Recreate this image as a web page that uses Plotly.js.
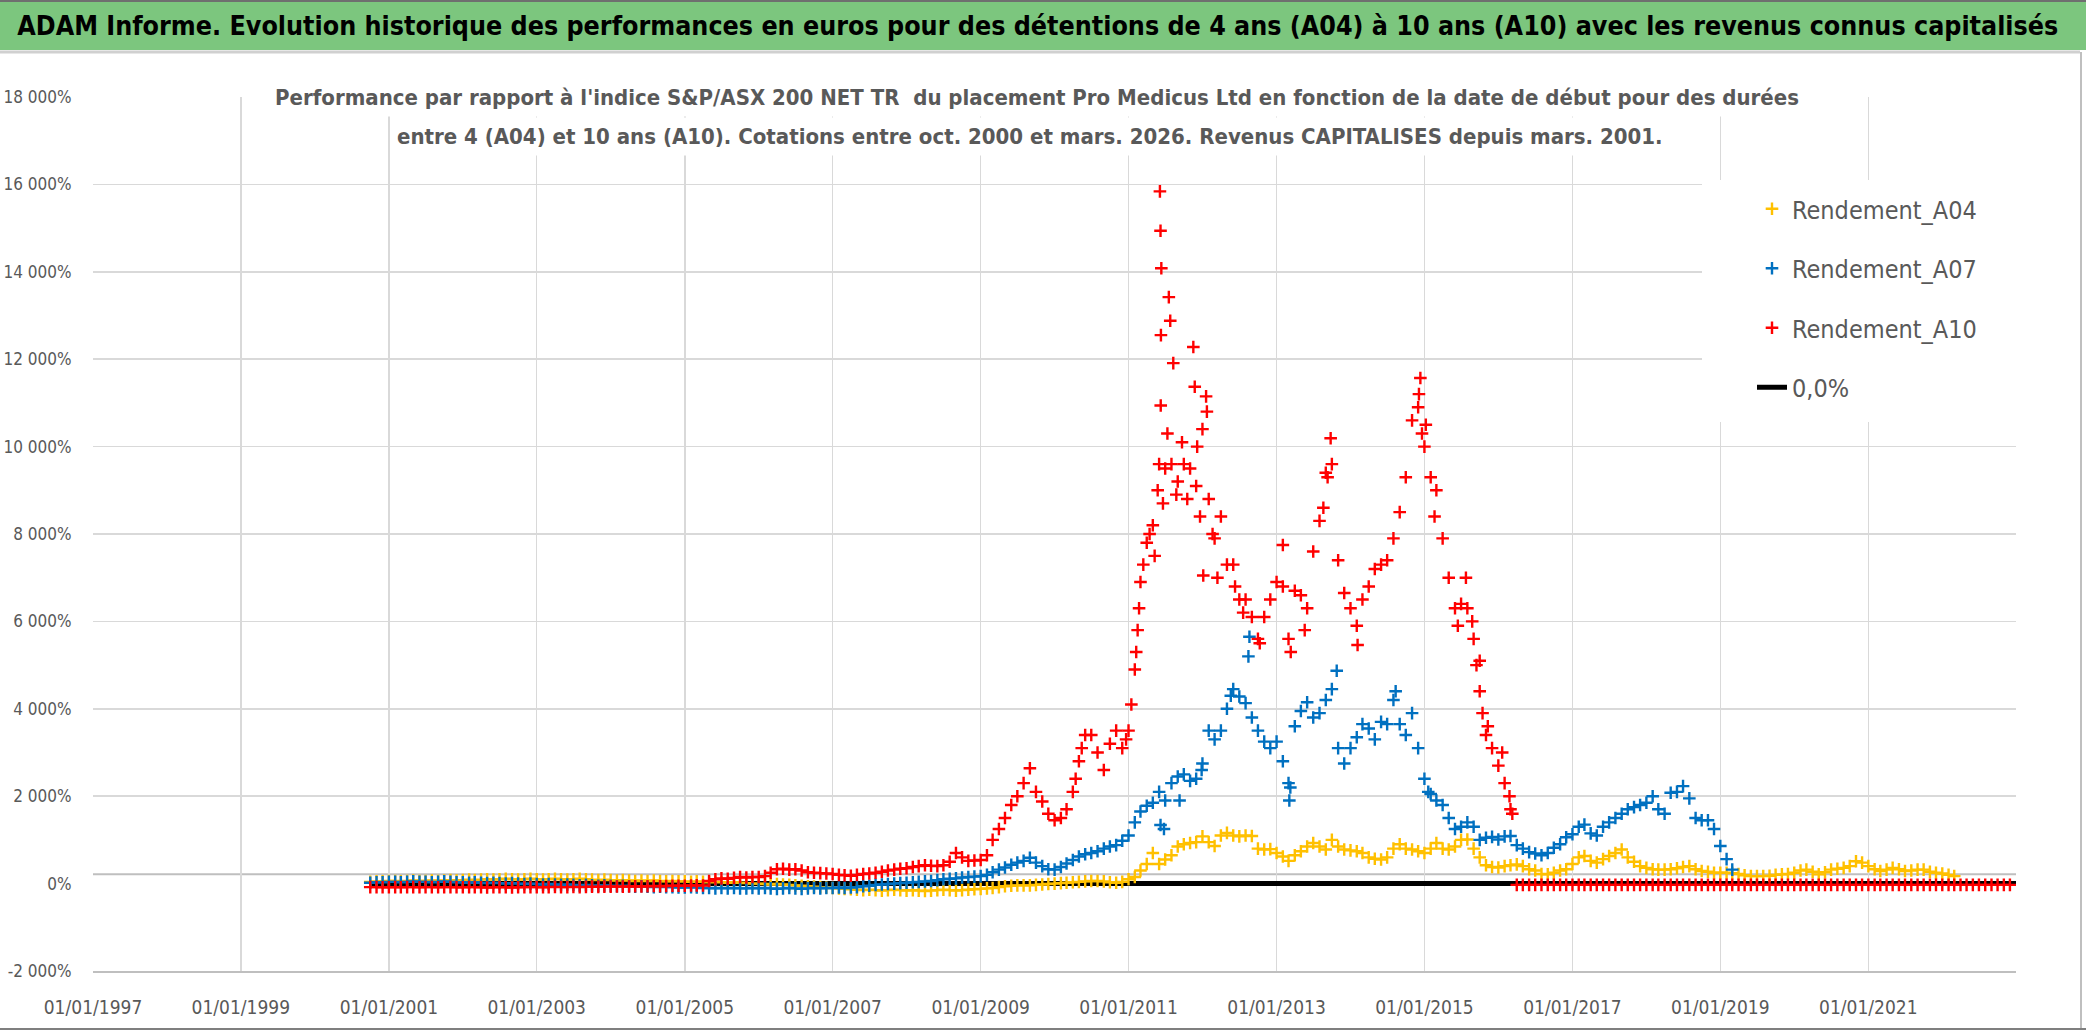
<!DOCTYPE html>
<html>
<head>
<meta charset="utf-8">
<script src="https://cdn.plot.ly/plotly-3.0.1.min.js"></script>
<style>
html,body{margin:0;padding:0;background:#ffffff;}
#chart{width:2086px;height:1031px;}
</style>
</head>
<body>
<div id="chart"></div>
<script>
// ---------- DATA ----------
// Monthly series, first value = October 2000 (start date of the holding period)
const seriesStart = [2000, 10];

const A04 = [
  40,50,50,
  60,60,50,60,70,60,60,70,60,70,80,70,
  80,90,80,90,100,90,100,110,100,90,100,110,
  100,90,100,110,100,90,100,110,100,90,80,90,
  80,70,80,70,60,70,60,70,60,50,60,50,
  50,40,50,40,30,40,30,20,30,20,10,0,
  0,-10,-20,-10,-20,-30,-40,-50,-60,-70,-80,-90,
  -100,-110,-120,-130,-140,-150,-140,-150,-160,-150,-140,-150,
  -160,-150,-160,-170,-160,-150,-140,-150,-160,-150,-140,-130,
  -120,-110,-100,-80,-60,-50,-40,-40,-40,-30,-20,-10,
  0,10,20,30,40,50,60,60,50,30,20,40,
  100,150,300,450,700,450,550,650,850,900,930,950,
  1080,950,860,1100,1160,1100,1080,1100,1090,800,780,790,
  700,620,520,650,740,850,930,850,780,1000,850,780,
  760,740,700,600,570,550,600,800,900,800,780,740,
  700,800,930,800,780,850,1000,1010,800,600,420,380,
  370,400,420,440,400,330,300,220,210,250,300,330,
  450,600,630,520,480,560,630,700,780,600,500,400,
  360,330,320,320,330,350,380,400,330,290,270,250,
  250,250,240,220,190,170,170,170,180,200,210,220,
  250,300,320,270,210,260,320,340,360,400,510,480,
  400,330,290,320,360,330,290,300,320,320,270,250,
  230,200,170
];

const A07 = [
  20,30,30,
  40,40,30,40,50,40,40,30,40,50,40,30,
  30,20,30,20,10,20,10,0,10,0,-10,0,
  -10,-20,-10,-20,-30,-20,-30,-40,-30,-40,-50,-40,
  -50,-60,-50,-60,-70,-60,-70,-80,-70,-80,-80,-90,
  -90,-80,-90,-100,-100,-110,-100,-110,-100,-110,-110,-100,
  -110,-100,-110,-120,-110,-100,-110,-120,-110,-100,-110,-100,
  -100,-90,-100,-90,-80,-60,-50,-30,-20,-10,0,10,
  20,30,40,50,60,80,100,110,120,140,150,160,
  170,200,260,320,370,430,480,520,590,480,400,330,
  320,380,460,540,620,670,700,740,800,850,880,980,
  1100,1400,1650,1780,1850,2100,1900,2300,2450,2500,2350,2400,
  2750,3500,3300,3500,4000,4450,4280,4130,3800,3500,3250,3100,
  3250,2800,2300,3600,3950,4150,3800,3900,4200,4450,3100,2750,
  3100,3350,3650,3550,3300,3700,3650,4200,3650,3400,3900,3100,
  2400,2050,1900,1800,1500,1250,1300,1400,1300,1000,1050,1070,
  1010,1080,1090,880,800,720,690,650,700,820,900,1060,
  1130,1300,1350,1150,1100,1300,1400,1500,1600,1700,1750,1800,
  1850,2000,1700,1600,2080,2100,2230,1950,1500,1450,1450,1250,
  860,560,320
];

const A10 = [
  -80,-80,-85,
  -85,-80,-85,-80,-80,-85,-80,-80,-85,-80,-80,-85,
  -85,-80,-80,-85,-90,-85,-80,-85,-90,-85,-80,-80,
  -80,-85,-80,-75,-80,-80,-75,-80,-75,-70,-75,-70,
  -70,-65,-70,-65,-60,-65,-60,-55,-60,-55,-50,-50,
  -50,-45,-40,-45,60,100,120,110,130,150,140,150,
  150,170,250,330,340,320,330,300,260,250,240,230,
  220,200,190,180,200,220,230,250,270,300,320,340,
  350,380,400,420,410,400,420,500,700,600,520,530,
  540,650,1000,1250,1500,1800,2000,2300,2640,2100,1880,1600,
  1450,1500,1700,2100,2800,3400,3400,3000,2600,3200,3500,3100,
  3500,4900,6900,7800,8200,9600,9500,9600,9200,9600,9500,9100,
  10400,8800,7900,8400,7300,7300,6500,6500,6100,5600,6100,6500,
  6900,6800,5600,6700,6600,6300,7600,8300,9400,9600,7400,6650,
  6300,5900,6500,6800,7200,7300,7400,7900,8500,9300,10600,10900,
  10000,9300,9000,7900,7000,6300,6400,6300,5600,4400,3400,3100,
  2700,2300,1700,-30,-30,-30,-30,-30,-30,-30,-30,-30,
  -30,-30,-30,-30,-30,-30,-30,-30,-30,-30,-30,-30,
  -30,-30,-30,-30,-30,-30,-30,-30,-30,-30,-30,-30,
  -30,-30,-30,-30,-30,-30,-30,-30,-30,-30,-30,-30,
  -30,-30,-30,-30,-30,-30,-30,-30,-30,-30,-30,-30,
  -30,-30,-30,-30,-30,-30,-30,-30,-30,-30,-30,-30,
  -30,-30,-30,-30,-30,-30,-30,-30,-30,-30,-30,-30
];

// Isolated scattered points (daily outliers)
const A07_extraDates = ['2011-06-08','2011-06-25','2011-09-10','2011-12-28','2012-05-20','2012-08-15','2012-08-20','2013-03-05','2013-03-10','2013-10-25','2014-08-12','2015-01-20'];
const A07_extraVals  = [1340,1250,1900,2600,4300,5200,5650,1900,2200,4870,4400,2100];

const A10_extraDates = [
  '2010-04-15','2010-05-15','2010-12-20','2011-01-15','2011-02-08','2011-02-15','2011-02-22','2011-03-15','2011-04-15',
  '2011-05-10','2011-05-25','2011-06-05','2011-06-08','2011-06-09','2011-06-10','2011-06-12','2011-06-20',
  '2011-07-12','2011-07-19','2011-07-26','2011-08-10','2011-08-25','2011-09-22','2011-10-18','2011-11-17',
  '2011-11-24','2011-12-06','2011-12-20','2012-01-05','2012-01-19','2012-01-23','2012-02-20','2012-03-15',
  '2012-06-10','2012-07-20','2012-10-10','2013-02-01','2013-03-12','2013-05-20','2013-08-20','2013-09-10',
  '2013-09-25','2014-02-05','2014-12-05','2014-12-12','2014-12-20','2015-01-08','2015-02-20','2015-06-15',
  '2015-07-25','2015-08-25','2015-09-15','2015-10-01','2015-10-15','2015-11-10','2016-01-20','2016-02-25','2016-03-10'
];
const A10_extraVals = [
  2400,3100,3300,4100,5300,5800,6300,7300,8000,
  7500,9000,15840,14940,10940,12550,14080,8700,
  10300,13420,12880,11910,8900,10100,8800,12280,
  11370,10000,8400,7050,11150,10800,8000,7000,
  6800,6200,5500,7750,5300,5800,8600,9300,
  10190,5460,11200,11570,10300,10500,8400,5900,
  7000,6000,5000,5100,3900,3600,3000,2000,1600
];

const zeroDates = ['2000-10-01','2022-12-31'];
const zeroVals  = [0, 0];

const xTickYears = [1997,1999,2001,2003,2005,2007,2009,2011,2013,2015,2017,2019,2021];
const yTickVals  = [-2000,0,2000,4000,6000,8000,10000,12000,14000,16000,18000];
const yTickText  = ['-2 000%','0%','2 000%','4 000%','6 000%','8 000%','10 000%','12 000%','14 000%','16 000%','18 000%'];

// ---------- helpers ----------
function monthlyDates(n){
  const out=[]; let y=seriesStart[0], m=seriesStart[1];
  for(let i=0;i<n;i++){
    out.push(y+'-'+String(m).padStart(2,'0')+'-01');
    m++; if(m>12){m=1;y++;}
  }
  return out;
}

const FONT = '"DejaVu Sans Condensed", "Liberation Sans Narrow", sans-serif';
const GREY = '#595959';

function mk(name, vals, color, extraD, extraV, rank){
  const xs = monthlyDates(vals.length).concat(extraD||[]);
  const ys = vals.concat(extraV||[]);
  return {
    type:'scatter', mode:'markers', name:name, x:xs, y:ys,
    legendgroup:name, legendrank:rank,
    marker:{symbol:'cross-thin', size:9, color:color, line:{color:color, width:2.4}},
    hoverinfo:'skip'
  };
}

const traces = [
  {type:'scatter', mode:'lines', name:'0,0%', x:zeroDates, y:zeroVals,
   legendgroup:'zero', legendrank:4, line:{color:'#000000', width:5}, hoverinfo:'skip'},
  mk('Rendement_A04', A04, '#FFC000', [], [], 1),
  mk('Rendement_A07', A07, '#0070C0', A07_extraDates, A07_extraVals, 2),
  mk('Rendement_A10', A10, '#FF0000', A10_extraDates, A10_extraVals, 3)
];

const L=93, R=70, T=97, B=60, W=2086, H=1031;
const PW=W-L-R, PH=H-T-B;
const px2x = p => (p-L)/PW;
const py2y = p => 1-(p-T)/PH;

const layout = {
  width:W, height:H,
  margin:{l:L, r:R, t:T, b:B, pad:0},
  paper_bgcolor:'#ffffff', plot_bgcolor:'#ffffff',
  showlegend:true,
  title:{
    text:'<b>ADAM Informe. Evolution historique des performances en euros pour des détentions de 4 ans (A04) à 10 ans (A10) avec les revenus connus capitalisés</b>',
    x:0.4975, xref:'container', xanchor:'center',
    y:1-26/H, yref:'container', yanchor:'middle',
    font:{family:FONT, size:26.6, color:'#000000'}
  },
  xaxis:{
    type:'date',
    range:['1997-01-01','2022-12-31'],
    tickmode:'array',
    tickvals:xTickYears.map(y=>y+'-01-01'),
    ticktext:xTickYears.map(y=>'01/01/'+y),
    showgrid:true, gridcolor:'#d9d9d9', gridwidth:1.5,
    showline:true, linecolor:'#bfbfbf', linewidth:2,
    zeroline:false,
    ticks:'outside', ticklen:18, tickcolor:'rgba(0,0,0,0)',
    tickfont:{family:FONT, size:19, color:GREY}
  },
  yaxis:{
    range:[-2000,18000],
    tickmode:'array', tickvals:yTickVals, ticktext:yTickText,
    showgrid:true, gridcolor:'#d9d9d9', gridwidth:1.5,
    zeroline:true, zerolinecolor:'rgba(0,0,0,0)',
    showline:false,
    ticks:'outside', ticklen:17, tickcolor:'rgba(0,0,0,0)',
    tickfont:{family:FONT, size:17, color:GREY}
  },
  legend:{
    x:px2x(1752), y:py2y(186), xanchor:'left', yanchor:'top',
    bgcolor:'#ffffff', borderwidth:0,
    traceorder:'grouped', tracegroupgap:24,
    font:{family:FONT, size:25, color:GREY},
    itemwidth:30
  },
  shapes:[
    // white area behind the legend (covers gridlines as in the reference)
    {type:'rect', xref:'paper', yref:'paper', x0:px2x(1702), x1:1, y0:py2y(422), y1:py2y(180),
     fillcolor:'#ffffff', line:{width:0}, layer:'above'},
    // green header band
    {type:'rect', xref:'paper', yref:'paper', x0:px2x(0), x1:px2x(W), y0:py2y(50), y1:py2y(0),
     fillcolor:'#7cc67e', line:{width:0}, layer:'below'},
    {type:'line', xref:'paper', yref:'paper', x0:px2x(0), x1:px2x(W), y0:py2y(1), y1:py2y(1),
     line:{color:'#6f6f6f', width:2}},
    {type:'line', xref:'paper', yref:'paper', x0:px2x(0), x1:px2x(2080), y0:py2y(52), y1:py2y(52),
     line:{color:'#d0d0d0', width:3}},
    // outer frame right and bottom
    {type:'line', xref:'paper', yref:'paper', x0:px2x(2081), x1:px2x(2081), y0:py2y(52), y1:py2y(1028),
     line:{color:'#bfbfbf', width:2}},
    {type:'line', xref:'paper', yref:'paper', x0:px2x(0), x1:px2x(W), y0:py2y(1029), y1:py2y(1029),
     line:{color:'#7f7f7f', width:2}},
    // horizontal axis line drawn slightly above 0
    {type:'line', xref:'paper', yref:'y', x0:0, x1:1, y0:215, y1:215,
     line:{color:'#bfbfbf', width:2}, layer:'below'}
  ],
  annotations:[
    {xref:'paper', yref:'paper', x:px2x(1037), y:py2y(97), xanchor:'center', yanchor:'middle',
     text:"<b>Performance par rapport à l'indice S&P/ASX 200 NET TR  du placement Pro Medicus Ltd en fonction de la date de début pour des durées</b>",
     showarrow:false, bgcolor:'#ffffff', borderpad:6,
     font:{family:FONT, size:22, color:GREY}},
    {xref:'paper', yref:'paper', x:px2x(1030), y:py2y(137), xanchor:'center', yanchor:'middle',
     text:"<b>entre 4 (A04) et 10 ans (A10). Cotations entre oct. 2000 et mars. 2026. Revenus CAPITALISES depuis mars. 2001.</b>",
     showarrow:false, bgcolor:'#ffffff', borderpad:6,
     font:{family:FONT, size:22, color:GREY}}
  ]
};

Plotly.newPlot('chart', traces, layout, {displayModeBar:false, staticPlot:true});
</script>
</body>
</html>
